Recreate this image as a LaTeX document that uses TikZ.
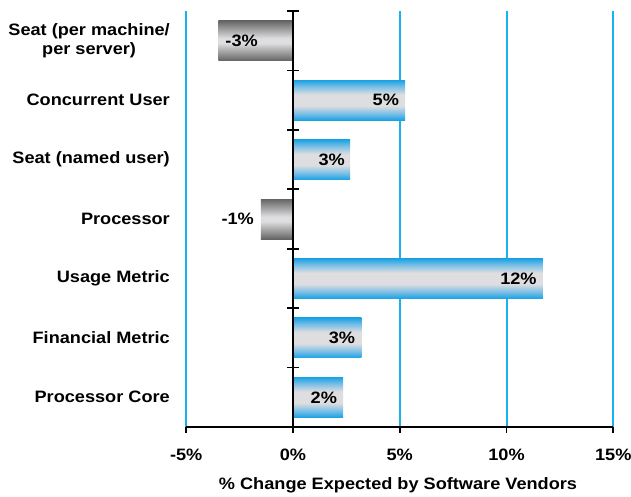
\documentclass[tikz,border=0pt]{standalone}
\usepackage{fontspec}
\setmainfont{Liberation Sans}[FakeStretch=1.1]
\definecolor{gridblue}{RGB}{24,178,236}
\definecolor{barblue}{RGB}{26,162,228}
\definecolor{barlightblue}{RGB}{120,190,230}
\definecolor{bargray}{RGB}{100,100,100}
\definecolor{barmid}{RGB}{222,222,224}
% vertical bar fills: coloured edges, pale centre
\pgfdeclareverticalshading{bluebarfill}{100bp}{color(0bp)=(barblue); color(25bp)=(barblue); color(33bp)=(barlightblue); color(43bp)=(barmid); color(57bp)=(barmid); color(67bp)=(barlightblue); color(75bp)=(barblue); color(100bp)=(barblue)}
\pgfdeclareverticalshading{graybarfill}{100bp}{color(0bp)=(bargray); color(25bp)=(bargray); color(47bp)=(barmid); color(53bp)=(barmid); color(75bp)=(bargray); color(100bp)=(bargray)}
\begin{document}
\begin{tikzpicture}[x=1pt,y=-1pt,
  lbl/.style={font=\bfseries\fontsize{16.5}{19}\selectfont, inner sep=0pt},
  catlbl/.style={lbl, anchor=east, align=center},
  posbar/.style={shading=bluebarfill},
  negbar/.style={shading=graybarfill},
  gridline/.style={gridblue, line width=2pt},
  axisline/.style={black, line width=1.8pt},
  tickline/.style={black, line width=1.6pt}]
\useasboundingbox (0,0) rectangle (631,496);
\fill[white] (0,0) rectangle (631,496);

% scale: 0% at x=293, 21.35 per percent; plot spans y=11..427
\def\xz{293}
\def\xu{21.35}
\def\ytop{11}
\def\ybot{427}
\def\band{59.43}

% vertical grid lines
\foreach \v in {-5,5,10,15}
  \draw[gridline] ({\xz+\xu*\v},\ytop) -- ({\xz+\xu*\v},\ybot);

% bars: row index / value
\foreach \i/\v/\kind in {0/-3.5/negbar,1/5.25/posbar,2/2.67/posbar,3/-1.5/negbar,4/11.7/posbar,5/3.2/posbar,6/2.35/posbar}{
  \pgfmathsetmacro{\yc}{\ytop+\band*(\i+0.5)}
  \shade[\kind] (\xz,{\yc-20}) rectangle ({\xz+\xu*\v},{\yc+20});
}

% category labels
\foreach \i/\t in {0/{Seat (per machine/\\per server)},1/Concurrent User,2/Seat (named user),3/Processor,4/Usage Metric,5/Financial Metric,6/Processor Core}{
  \pgfmathsetmacro{\yc}{\ytop+\band*(\i+0.5)}
  \node[catlbl] (cat\i) at (170,\yc) {\t};
}

% value labels
\pgfmathsetmacro{\ya}{\ytop+\band*0.5}
\node[lbl, anchor=west] (val0) at ({\xz-\xu*3.5+7},\ya) {-3\%};
\pgfmathsetmacro{\ya}{\ytop+\band*1.5}
\node[lbl, anchor=east] (val1) at ({\xz+\xu*5.25-6},\ya) {5\%};
\pgfmathsetmacro{\ya}{\ytop+\band*2.5}
\node[lbl, anchor=east] (val2) at ({\xz+\xu*2.67-5},\ya) {3\%};
\pgfmathsetmacro{\ya}{\ytop+\band*3.5}
\node[lbl, anchor=east] (val3) at ({\xz-\xu*1.5-7},\ya) {-1\%};
\pgfmathsetmacro{\ya}{\ytop+\band*4.5}
\node[lbl, anchor=east] (val4) at ({\xz+\xu*11.7-6},\ya) {12\%};
\pgfmathsetmacro{\ya}{\ytop+\band*5.5}
\node[lbl, anchor=east] (val5) at ({\xz+\xu*3.2-6},\ya) {3\%};
\pgfmathsetmacro{\ya}{\ytop+\band*6.5}
\node[lbl, anchor=east] (val6) at ({\xz+\xu*2.35-6},\ya) {2\%};

% zero axis with category ticks
\draw[axisline] (\xz,\ytop) -- (\xz,\ybot);
\foreach \k in {0,...,6}
  \draw[tickline] ({\xz-6},{\ytop+\band*\k}) -- ({\xz+6},{\ytop+\band*\k});

% value axis
\draw[axisline] ({\xz-\xu*5},\ybot) -- ({\xz+\xu*15},\ybot);
\foreach \v in {-5,0,5,10,15}{
  \draw[tickline] ({\xz+\xu*\v},\ybot) -- ({\xz+\xu*\v},{\ybot+6});
  \node[lbl] (tick\v) at ({\xz+\xu*\v},455) {\v\%};
}
\node[lbl] (title) at (398,485) {\% Change Expected by Software Vendors};
\end{tikzpicture}
\end{document}
